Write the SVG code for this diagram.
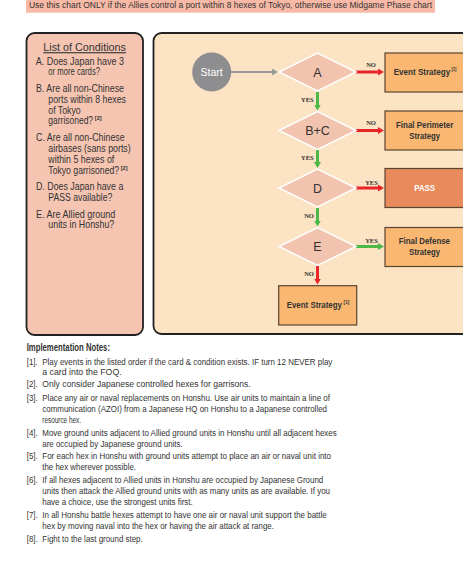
<svg xmlns="http://www.w3.org/2000/svg" width="463" height="576" viewBox="0 0 463 576">
<style>
.t{font-family:"Liberation Sans",Arial,sans-serif;fill:#333;}
.c{font-size:10.4px;}
.n{font-size:9.6px;}
.b{font-family:"Liberation Sans",Arial,sans-serif;font-weight:bold;fill:#333;font-size:8.5px;}
.sup{font-family:"Liberation Sans",Arial,sans-serif;font-weight:bold;fill:#333;font-size:5.5px;}
.lbl{font-family:"Liberation Serif","Times New Roman",serif;font-weight:bold;fill:#333;font-size:6.5px;text-anchor:middle;}
.dia{fill:#f2c3af;stroke:#ffffff;stroke-width:1.5;}
.box{fill:#f9b772;stroke:#5a4530;stroke-width:1.2;}
.red{stroke:#e8262a;stroke-width:3;fill:none;}
.grn{stroke:#4db848;stroke-width:3;fill:none;}
.dl{font-family:"Liberation Sans",Arial,sans-serif;fill:#333;font-size:12.5px;text-anchor:middle;}
</style>
<defs>
<marker id="mr" markerUnits="userSpaceOnUse" markerWidth="7" markerHeight="7" refX="1" refY="3.5" orient="auto"><path d="M0,0 L6,3.5 L0,7 z" fill="#e8262a"/></marker>
<marker id="mg" markerUnits="userSpaceOnUse" markerWidth="7" markerHeight="7" refX="1" refY="3.5" orient="auto"><path d="M0,0 L6,3.5 L0,7 z" fill="#4db848"/></marker>
<marker id="mgy" markerUnits="userSpaceOnUse" markerWidth="7" markerHeight="7" refX="1" refY="3.5" orient="auto"><path d="M0,0 L6,3.5 L0,7 z" fill="#9a9a9a"/></marker>
</defs>
<rect width="463" height="576" fill="#ffffff"/>

<g id="banner">
<rect x="26" y="0" width="409" height="12.7" fill="#f8b9a6"/>
<text class="t" x="29" y="8.3" font-size="8.5" textLength="403" lengthAdjust="spacingAndGlyphs">Use this chart ONLY if the Allies control a port within 8 hexes of Tokyo, otherwise use Midgame Phase chart</text>
</g>

<g id="conditions">
<rect x="26.5" y="33" width="116.5" height="302" rx="8" fill="#f5c5b2" stroke="#222" stroke-width="1.8"/>
<text class="t" x="43.3" y="51.2" font-size="11" textLength="82.7" lengthAdjust="spacingAndGlyphs" text-decoration="underline">List of Conditions</text>
<text class="t c" x="35.7" y="65.2" textLength="88.3" lengthAdjust="spacingAndGlyphs">A. Does Japan have 3</text>
<text class="t c" x="48.3" y="75.2" textLength="51.7" lengthAdjust="spacingAndGlyphs">or more cards?</text>
<text class="t c" x="36" y="91.8" textLength="88" lengthAdjust="spacingAndGlyphs">B. Are all non-Chinese</text>
<text class="t c" x="48.3" y="102.5" textLength="77.7" lengthAdjust="spacingAndGlyphs">ports within 8 hexes</text>
<text class="t c" x="48.3" y="113.5" textLength="32.4" lengthAdjust="spacingAndGlyphs">of Tokyo</text>
<text class="t c" x="48.3" y="123.5"><tspan textLength="44.8" lengthAdjust="spacingAndGlyphs">garrisoned?</tspan><tspan class="sup" x="94.8" y="120" textLength="6.9" lengthAdjust="spacingAndGlyphs">[2]</tspan></text>
<text class="t c" x="36" y="141.2" textLength="88.7" lengthAdjust="spacingAndGlyphs">C. Are all non-Chinese</text>
<text class="t c" x="48.3" y="151.8" textLength="82.4" lengthAdjust="spacingAndGlyphs">airbases (sans ports)</text>
<text class="t c" x="48.3" y="162.5" textLength="66" lengthAdjust="spacingAndGlyphs">within 5 hexes of</text>
<text class="t c" x="48.3" y="173.5"><tspan textLength="70.8" lengthAdjust="spacingAndGlyphs">Tokyo garrisoned?</tspan><tspan class="sup" x="120.8" y="170" textLength="6.7" lengthAdjust="spacingAndGlyphs">[2]</tspan></text>
<text class="t c" x="36" y="190.2" textLength="87.3" lengthAdjust="spacingAndGlyphs">D. Does Japan have a</text>
<text class="t c" x="48.3" y="201.2" textLength="64" lengthAdjust="spacingAndGlyphs">PASS available?</text>
<text class="t c" x="36" y="217.8" textLength="79.3" lengthAdjust="spacingAndGlyphs">E. Are Allied ground</text>
<text class="t c" x="48.3" y="227.8" textLength="66" lengthAdjust="spacingAndGlyphs">units in Honshu?</text>
</g>

<g id="flowpanel">
<rect x="153.5" y="33" width="320" height="301" rx="8" fill="#fbe3c3" stroke="#222" stroke-width="1.8"/>
</g>

<g id="connectors">
<line x1="231" y1="72" x2="273" y2="72" stroke="#9a9a9a" stroke-width="2.2" marker-end="url(#mgy)"/>
<line class="red" x1="356" y1="72" x2="379" y2="72" marker-end="url(#mr)"/>
<line class="red" x1="356" y1="130.5" x2="379" y2="130.5" marker-end="url(#mr)"/>
<line class="red" x1="356" y1="188" x2="379" y2="188" marker-end="url(#mr)"/>
<line class="grn" x1="356" y1="246.5" x2="379" y2="246.5" marker-end="url(#mg)"/>
<line class="grn" x1="317.5" y1="92" x2="317.5" y2="105.5" marker-end="url(#mg)"/>
<line class="grn" x1="317.5" y1="150" x2="317.5" y2="163" marker-end="url(#mg)"/>
<line class="grn" x1="317.5" y1="208" x2="317.5" y2="221.5" marker-end="url(#mg)"/>
<line class="red" x1="317.5" y1="266" x2="317.5" y2="279.5" marker-end="url(#mr)"/>
<text class="lbl" x="371" y="66.5">NO</text>
<text class="lbl" x="371" y="125">NO</text>
<text class="lbl" x="371.5" y="184.5">YES</text>
<text class="lbl" x="371.5" y="243">YES</text>
<text class="lbl" x="307.3" y="101.5">YES</text>
<text class="lbl" x="307.3" y="160">YES</text>
<text class="lbl" x="309" y="218">NO</text>
<text class="lbl" x="309" y="276.3">NO</text>
</g>

<g id="start">
<circle cx="211.7" cy="72" r="19.5" fill="#8e8e90"/>
<text x="211.7" y="76" font-family="Liberation Sans,Arial,sans-serif" font-size="10.5" fill="#ffffff" text-anchor="middle">Start</text>
</g>

<g id="decisionA">
<polygon class="dia" points="279,72 317.5,53 356,72 317.5,91"/>
<text class="dl" x="317.5" y="76.5">A</text>
</g>
<g id="decisionBC">
<polygon class="dia" points="279,130.5 317.5,111.5 356,130.5 317.5,149.5"/>
<text class="dl" x="317.5" y="135">B+C</text>
</g>
<g id="decisionD">
<polygon class="dia" points="279,188 317.5,169 356,188 317.5,207"/>
<text class="dl" x="317.5" y="192.5">D</text>
</g>
<g id="decisionE">
<polygon class="dia" points="279,246.5 317.5,227.5 356,246.5 317.5,265.5"/>
<text class="dl" x="317.5" y="251">E</text>
</g>

<g id="eventStrategy1">
<rect class="box" x="385" y="53" width="80" height="39"/>
<text class="b" x="393.7" y="75.3"><tspan textLength="56.5" lengthAdjust="spacingAndGlyphs">Event Strategy</tspan><tspan class="sup" x="451.4" y="71" textLength="5" lengthAdjust="spacingAndGlyphs">[1]</tspan></text>
</g>
<g id="finalPerimeter">
<rect class="box" x="385" y="111" width="80" height="39"/>
<text class="b" x="396" y="128" textLength="57.3" lengthAdjust="spacingAndGlyphs">Final Perimeter</text>
<text class="b" x="409.3" y="139" textLength="30.7" lengthAdjust="spacingAndGlyphs">Strategy</text>
</g>
<g id="pass">
<rect x="385" y="168.5" width="80" height="39" fill="#e88a5b" stroke="#5a4530" stroke-width="1.2"/>
<text x="414.3" y="191.2" font-family="Liberation Sans,Arial,sans-serif" font-weight="bold" font-size="8.5" fill="#ffffff" textLength="20.7" lengthAdjust="spacingAndGlyphs">PASS</text>
</g>
<g id="finalDefense">
<rect class="box" x="385" y="227.5" width="80" height="39"/>
<text class="b" x="398.7" y="243.7" textLength="51.3" lengthAdjust="spacingAndGlyphs">Final Defense</text>
<text class="b" x="409" y="254.7" textLength="31" lengthAdjust="spacingAndGlyphs">Strategy</text>
</g>
<g id="eventStrategy2">
<rect class="box" x="278.7" y="285.7" width="78" height="39.3"/>
<text class="b" x="286.7" y="308.2"><tspan textLength="55.3" lengthAdjust="spacingAndGlyphs">Event Strategy</tspan><tspan class="sup" x="343.6" y="303.6" textLength="5.8" lengthAdjust="spacingAndGlyphs">[1]</tspan></text>
</g>

<g id="notes">
<text x="26.7" y="350.5" font-family="Liberation Sans,Arial,sans-serif" font-weight="bold" font-size="10" fill="#333" textLength="83.3" lengthAdjust="spacingAndGlyphs">Implementation Notes:</text>
<text class="t n" x="26.7" y="364.5" textLength="11" lengthAdjust="spacingAndGlyphs">[1].</text>
<text class="t n" x="42.3" y="364.5" textLength="290" lengthAdjust="spacingAndGlyphs">Play events in the listed order if the card &amp; condition exists. IF turn 12 NEVER play</text>
<text class="t n" x="42.3" y="375.2" textLength="79.4" lengthAdjust="spacingAndGlyphs">a card into the FOQ.</text>
<text class="t n" x="26.7" y="387.2" textLength="11" lengthAdjust="spacingAndGlyphs">[2].</text>
<text class="t n" x="42.3" y="387.2" textLength="208.4" lengthAdjust="spacingAndGlyphs">Only consider Japanese controlled hexes for garrisons.</text>
<text class="t n" x="26.7" y="400.5" textLength="11" lengthAdjust="spacingAndGlyphs">[3].</text>
<text class="t n" x="42.3" y="400.5" textLength="287.7" lengthAdjust="spacingAndGlyphs">Place any air or naval replacements on Honshu. Use air units to maintain a line of</text>
<text class="t n" x="42.3" y="411.5" textLength="284.7" lengthAdjust="spacingAndGlyphs">communication (AZOI) from a Japanese HQ on Honshu to a Japanese controlled</text>
<text class="t n" x="42.3" y="422.8" textLength="38.7" lengthAdjust="spacingAndGlyphs">resource hex.</text>
<text class="t n" x="26.7" y="435.5" textLength="11" lengthAdjust="spacingAndGlyphs">[4].</text>
<text class="t n" x="42.3" y="435.5" textLength="294.4" lengthAdjust="spacingAndGlyphs">Move ground units adjacent to Allied ground units in Honshu until all adjacent hexes</text>
<text class="t n" x="42.3" y="446.5" textLength="140.4" lengthAdjust="spacingAndGlyphs">are occupied by Japanese ground units.</text>
<text class="t n" x="26.7" y="458.8" textLength="11" lengthAdjust="spacingAndGlyphs">[5].</text>
<text class="t n" x="42.3" y="458.8" textLength="288.7" lengthAdjust="spacingAndGlyphs">For each hex in Honshu with ground units attempt to place an air or naval unit into</text>
<text class="t n" x="42.3" y="469.5" textLength="93.7" lengthAdjust="spacingAndGlyphs">the hex wherever possible.</text>
<text class="t n" x="26.7" y="482.8" textLength="11" lengthAdjust="spacingAndGlyphs">[6].</text>
<text class="t n" x="42.3" y="482.8" textLength="281" lengthAdjust="spacingAndGlyphs">If all hexes adjacent to Allied units in Honshu are occupied by Japanese Ground</text>
<text class="t n" x="42.3" y="493.8" textLength="287.7" lengthAdjust="spacingAndGlyphs">units then attack the Allied ground units with as many units as are available. If you</text>
<text class="t n" x="42.3" y="504.5" textLength="150.4" lengthAdjust="spacingAndGlyphs">have a choice, use the strongest units first.</text>
<text class="t n" x="26.7" y="517.8" textLength="11" lengthAdjust="spacingAndGlyphs">[7].</text>
<text class="t n" x="42.3" y="517.8" textLength="284.4" lengthAdjust="spacingAndGlyphs">In all Honshu battle hexes attempt to have one air or naval unit support the battle</text>
<text class="t n" x="42.3" y="528.5" textLength="231.7" lengthAdjust="spacingAndGlyphs">hex by moving naval into the hex or having the air attack at range.</text>
<text class="t n" x="26.7" y="541.8" textLength="11" lengthAdjust="spacingAndGlyphs">[8].</text>
<text class="t n" x="42.3" y="541.8" textLength="100.4" lengthAdjust="spacingAndGlyphs">Fight to the last ground step.</text>
</g>
</svg>
